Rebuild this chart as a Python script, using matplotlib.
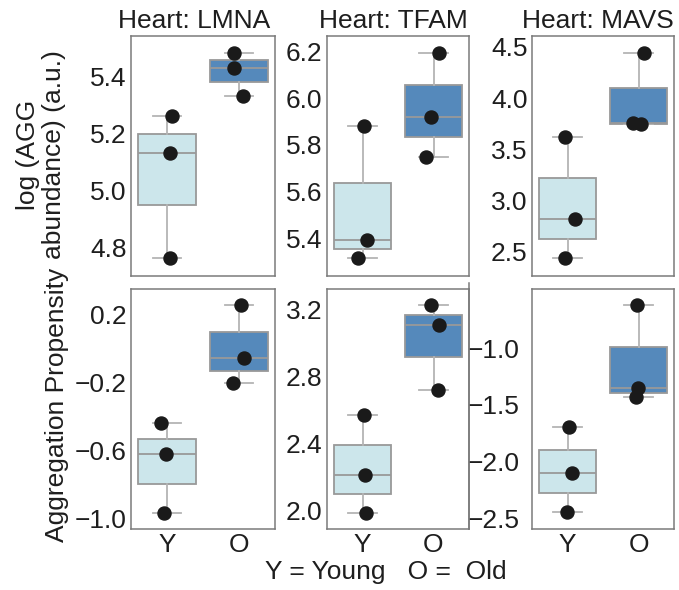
import matplotlib
matplotlib.use("Agg")
import matplotlib.pyplot as plt
from matplotlib.lines import Line2D
import numpy as np

plt.rcParams['font.family'] = ['Liberation Sans', 'DejaVu Sans']

# ---------------- data ----------------
categories = ["Y", "O"]
titles = ["Heart: LMNA", "Heart: TFAM", "Heart: MAVS"]

abund_young = [[5.263, 5.131, 4.763], [5.883, 5.393, 5.314], [3.623, 2.821, 2.437]]
abund_old = [[5.482, 5.432, 5.330], [6.193, 5.919, 5.750], [4.435, 3.759, 3.743]]
agg_young = [[-0.436, -0.623, -0.967], [2.568, 2.213, 1.984], [-1.697, -2.103, -2.447]]
agg_old = [[0.259, -0.056, -0.203], [3.226, 3.106, 2.722], [-0.618, -1.353, -1.432]]

top_ticks = [[4.8, 5.0, 5.2, 5.4], [5.4, 5.6, 5.8, 6.0, 6.2], [2.5, 3.0, 3.5, 4.0, 4.5]]
bot_ticks = [[-1.0, -0.6, -0.2, 0.2], [2.0, 2.4, 2.8, 3.2], [-2.5, -2.0, -1.5, -1.0]]

# ---------------- layout / style ----------------
top_ylim = [(4.698, 5.543), (5.238, 6.267), (2.266, 4.604)]
bot_ylim = [(-1.063, 0.353), (1.891, 3.321), (-2.594, -0.477)]

# strip-plot jitter offsets (x offset from category centre)
top_jit_y = [[0.065, 0.042, 0.042], [0.025, 0.059, -0.059], [-0.039, 0.101, -0.039]]
top_jit_o = [[-0.065, -0.069, 0.051], [0.077, -0.035, -0.106], [0.073, -0.077, 0.041]]
bot_jit_y = [[-0.079, -0.018, -0.042], [0.025, 0.035, 0.049], [0.017, 0.069, -0.011]]
bot_jit_o = [[0.028, 0.074, -0.079], [-0.035, 0.077, 0.068], [-0.021, -0.007, -0.030]]

W, H = 679, 590
col_px = [(131, 275), (327, 469), (532, 674)]
top_px = (36, 276)
bot_px = (289, 529)

c_young = "#cce6eb"
c_old = "#5589bb"
c_line = "#999999"
c_whisk = "#b4b4b4"
c_spine = "#7a7a7a"
c_text = "#1e1e1e"
FS = 19

fig = plt.figure(figsize=(W / 100, H / 100), dpi=100)


def make_ax(cp, rp):
    x0, x1 = cp
    y0, y1 = rp
    return fig.add_axes([x0 / W, 1 - y1 / H, (x1 - x0) / W, (y1 - y0) / H])


def draw(ax, young, old, jy, jo, ylim, ticks, show_x, pad):
    data = [young, old]
    bp = ax.boxplot(data, positions=[0, 1], widths=0.8, whis=(0, 100),
                    patch_artist=True, showfliers=False,
                    medianprops=dict(color=c_line, lw=1.3),
                    boxprops=dict(edgecolor=c_line, lw=1.3),
                    whiskerprops=dict(color=c_whisk, lw=1.3),
                    capprops=dict(color=c_whisk, lw=1.3))
    for patch, c in zip(bp['boxes'], [c_young, c_old]):
        patch.set_facecolor(c)
    for i, (vals, jit) in enumerate([(young, jy), (old, jo)]):
        ax.plot(np.array(jit) + i, vals, 'o', color="#1a1a1a", ms=9.4,
                mec="#1a1a1a", zorder=5, ls='none')
    ax.set_xlim(-0.5, 1.5)
    ax.set_ylim(*ylim)
    ax.set_yticks(ticks)
    ax.set_yticklabels([f"{t:.1f}".replace("-", "\u2212") for t in ticks])
    ax.set_xticks([0, 1])
    if show_x:
        ax.set_xticklabels(categories)
    else:
        ax.set_xticklabels([])
    ax.tick_params(length=0, labelsize=FS, colors=c_text, pad=3)
    ax.tick_params(axis='y', pad=pad)
    for s in ax.spines.values():
        s.set_color(c_spine)
        s.set_linewidth(1.1)


title_x = [0.4375, 0.465, 0.465]
pads = [3.2, 3.2, 8.6]
for j in range(3):
    ax = make_ax(col_px[j], top_px)
    draw(ax, abund_young[j], abund_old[j], top_jit_y[j], top_jit_o[j],
         top_ylim[j], top_ticks[j], False, 3.2)
    ax.set_title(titles[j], fontsize=FS, color=c_text, x=title_x[j], pad=6)
    ax2 = make_ax(col_px[j], bot_px)
    draw(ax2, agg_young[j], agg_old[j], bot_jit_y[j], bot_jit_o[j],
         bot_ylim[j], bot_ticks[j], True, pads[j])

# stray vertical line seen between the bottom middle and right panels
fig.add_artist(Line2D([469 / W, 469 / W], [1 - 283 / H, 1 - 529 / H],
                      color=c_spine, lw=1.1))

fig.text(41 / W, 1 - 155 / H, "log (AGG\nabundance) (a.u.)", rotation=90,
         ha='center', va='center', fontsize=FS, color=c_text,
         multialignment='center', linespacing=1.1)
fig.text(57 / W, 1 - 405 / H, "Aggregation Propensity", rotation=90,
         ha='center', va='center', fontsize=FS, color=c_text)
fig.text(385.5 / W, 1 - 572 / H, "Y = Young   O =  Old", ha='center',
         va='center', fontsize=FS, color=c_text)

fig.savefig("out.png", dpi=100)
